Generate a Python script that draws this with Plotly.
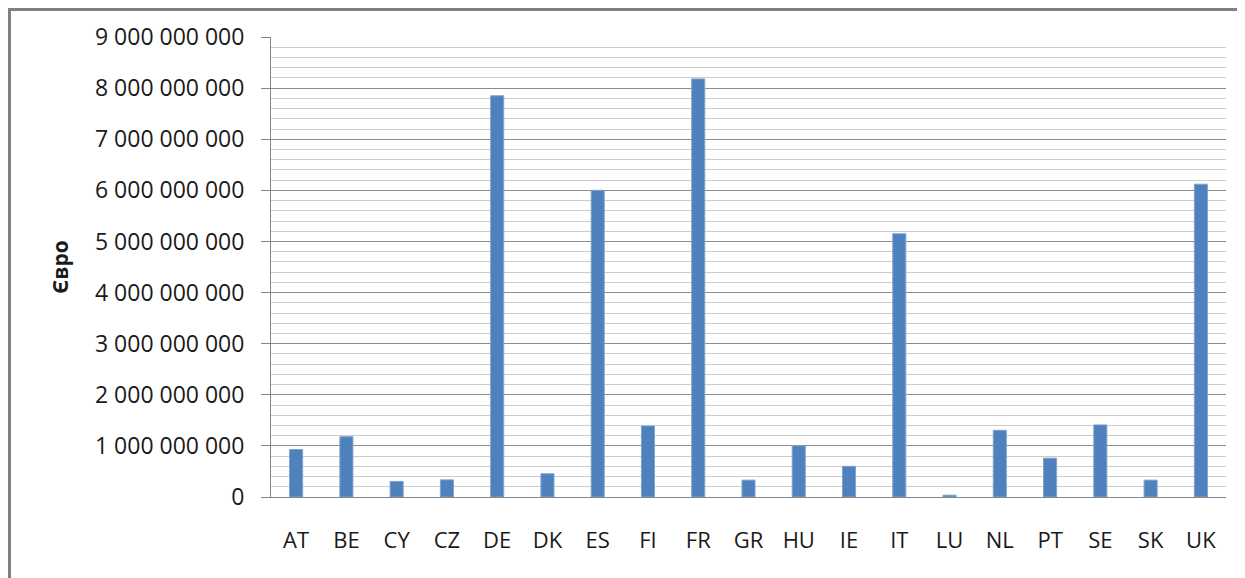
import plotly.graph_objects as go

countries = ["AT", "BE", "CY", "CZ", "DE", "DK", "ES", "FI", "FR", "GR",
             "HU", "IE", "IT", "LU", "NL", "PT", "SE", "SK", "UK"]
values = [930e6, 1180e6, 305e6, 335e6, 7850e6, 455e6, 6000e6, 1390e6, 8180e6, 330e6,
          1000e6, 600e6, 5150e6, 35e6, 1305e6, 760e6, 1410e6, 330e6, 6120e6]
y_ticks = [0, 1e9, 2e9, 3e9, 4e9, 5e9, 6e9, 7e9, 8e9, 9e9]
y_title = "Євро"

OFF = 8  # page body margin
W, H = 1245 - OFF, 578 - OFF
L, T = 271 - OFF, 37 - OFF
R = W - (1226 - OFF)
B = H - (497 - OFF)
pw = W - L - R
ph = H - T - B

FONT = "Open Sans, Noto Sans, sans-serif"

fig = go.Figure(go.Bar(
    x=countries, y=values,
    marker=dict(color="#4F81BD", line=dict(color="#7FA2CF", width=1)),
))

fig.update_layout(
    width=W, height=H,
    margin=dict(l=L, r=R, t=T, b=B, pad=0),
    paper_bgcolor="white", plot_bgcolor="white",
    showlegend=False,
    bargap=0.74,
    separators=", ",
    font=dict(family=FONT, size=22, color="#1a1a1a"),
    xaxis=dict(
        showline=True, linecolor="#868686", linewidth=1,
        ticks="", showgrid=False,
        tickfont=dict(size=22), ticklabelstandoff=24,
    ),
    yaxis=dict(
        range=[0, 9e9], tickvals=y_ticks, tickformat=",d",
        showline=True, linecolor="#868686", linewidth=1,
        ticks="outside", ticklen=9, tickcolor="#868686",
        showgrid=True, gridcolor="#8c8c8c", gridwidth=1,
        minor=dict(dtick=2e8, showgrid=True, gridcolor="#cccccc", gridwidth=1, ticks=""),
        zeroline=False,
        tickfont=dict(size=23), ticklabelstandoff=12,
    ),
    shapes=[dict(type="rect", xref="paper", yref="paper",
                 x0=(1.5 - L) / pw, x1=1.1, y0=-0.5, y1=1 + (T - 1.5) / ph,
                 line=dict(color="#7f7f7f", width=3), layer="below")],
    annotations=[dict(text="<b>" + y_title + "</b>", xref="paper", yref="paper",
                      x=(60 - 271) / pw, y=0.5, textangle=-90, showarrow=False,
                      font=dict(size=21, family=FONT), xanchor="center", yanchor="middle")],
)

fig.write_html("out.html")
